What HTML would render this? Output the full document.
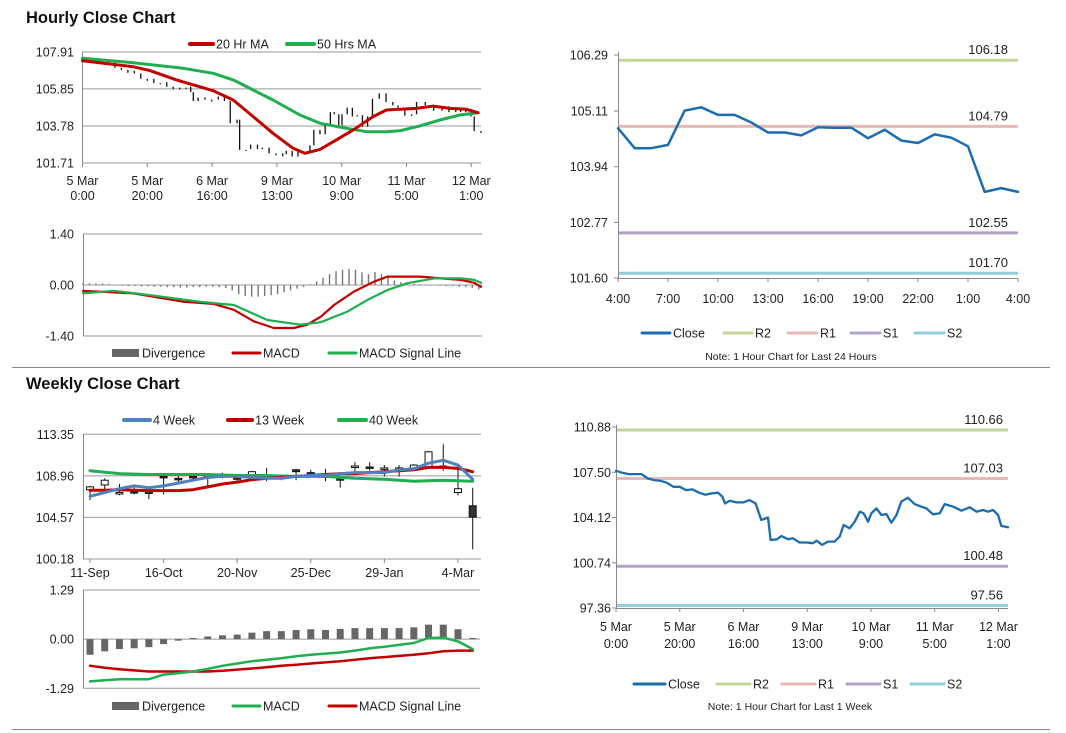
<!DOCTYPE html>
<html><head><meta charset="utf-8"><style>
html,body{margin:0;padding:0;background:#fff;}
svg{display:block;font-family:"Liberation Sans",Arial,sans-serif;}
</style></head><body>
<svg id="c" width="1066" height="733" viewBox="0 0 1066 733" xmlns="http://www.w3.org/2000/svg">
<rect width="1066" height="733" fill="#fff"/>
<text x="26" y="23" font-size="16.5" font-weight="bold" fill="#111">Hourly Close Chart</text>
<text x="26" y="389" font-size="16.5" font-weight="bold" fill="#111">Weekly Close Chart</text>
<line x1="12" y1="367.5" x2="1050" y2="367.5" stroke="#888" stroke-width="1"/>
<line x1="12" y1="729.5" x2="1050" y2="729.5" stroke="#888" stroke-width="1"/>
</svg>
<script>
// ---------- DATA ----------
// 1-week hourly close (shared by hourly candle chart and right-bottom chart)
const weekHours=[0,2,4,6,8,10,12,14,16,18,20,22,24,26,28,30,32,33.4,34.2,35.7,37.8,39.9,41.9,43.8,45.6,47.7,48.5,50.5,51.9,54,55.5,57.6,59.7,61.8,62.9,64.7,66.5,68.6,70.2,71.4,73.3,74.9,76.5,77.7,79.1,80.1,81.7,83.3,84.8,86.4,88,89.5,91.6,93.7,95.8,97.4,99.5,101.6,103.1,105.8,108.4,111,113.1,115.2,116.7,118.3,119.9,120.9,123];
const weekClose=[107.61,107.46,107.36,107.36,107.36,107.03,106.91,106.86,106.71,106.41,106.41,106.17,106.22,105.97,105.82,105.92,105.97,105.67,105.17,105.37,105.25,105.25,105.42,105.17,103.93,104.13,102.44,102.49,102.74,102.49,102.57,102.25,102.25,102.20,102.39,102.07,102.32,102.32,102.69,103.56,103.31,103.81,104.55,104.43,103.81,104.43,104.80,104.31,104.38,103.73,104.31,105.30,105.60,105.12,104.93,104.80,104.35,104.43,105.12,104.93,104.63,104.88,104.55,104.68,104.55,104.68,104.31,103.49,103.39];
const hourTickLabels=[["5 Mar","0:00"],["5 Mar","20:00"],["6 Mar","16:00"],["9 Mar","13:00"],["10 Mar","9:00"],["11 Mar","5:00"],["12 Mar","1:00"]];
const hourTickPos=[0,20,40,60,80,100,120];
const ma20Hours=[0,15.6,20.8,29,40.3,46.5,52.7,58.8,65,68.6,73.3,77.4,83.5,89.7,93.8,97.9,103.1,108.2,113.4,118.5,122.1];
const ma20=[107.42,107.09,106.87,106.35,105.75,105.23,104.30,103.37,102.53,102.25,102.47,102.90,103.55,104.30,104.67,104.71,104.76,104.89,104.76,104.71,104.52];
const ma50Hours=[0,15.6,31.1,40.3,46.5,52.7,58.8,67.1,73.3,81.5,87.7,93.8,97.9,104.1,110.3,116.5,122.1];
const ma50=[107.56,107.31,107.0,106.72,106.35,105.79,105.23,104.39,103.93,103.65,103.46,103.46,103.51,103.78,104.11,104.39,104.52];
const hPriceTicks=[107.91,105.85,103.78,101.71];
// hourly MACD
const macdHHours=[0,15.6,31.1,40.3,46.5,52.7,58.8,65,69.1,73.3,77.4,83.5,89.7,93.8,97.9,104.1,110.3,116.5,120.6,122.7];
const macdH=[-0.16,-0.23,-0.46,-0.52,-0.68,-1.0,-1.18,-1.18,-1.09,-0.87,-0.55,-0.18,0.09,0.23,0.23,0.23,0.18,0.14,0.06,-0.05];
const sigHHours=[0,9.4,20.8,36.2,46.5,56.8,67.1,73.3,81.5,87.7,93.8,100,108.2,116.5,120.6,122.7];
const sigH=[-0.23,-0.16,-0.28,-0.46,-0.55,-0.96,-1.09,-1.02,-0.73,-0.41,-0.14,0.05,0.18,0.18,0.14,0.06];
const divH=[0.05,0.05,0.04,0.04,0.03,0,-0.02,-0.03,-0.03,-0.04,-0.04,-0.05,-0.05,-0.06,-0.06,-0.07,-0.07,-0.06,-0.06,-0.05,-0.05,-0.06,-0.08,-0.15,-0.25,-0.3,-0.32,-0.32,-0.3,-0.28,-0.25,-0.2,-0.15,-0.1,-0.05,0.02,0.1,0.2,0.3,0.38,0.42,0.44,0.42,0.35,0.3,0.36,0.3,0.2,0.12,0.08,0.05,0.03,0.02,0.01,0.0,-0.02,-0.03,-0.03,-0.05,-0.06,-0.08,-0.12];
const macdHTicks=[1.40,0.00,-1.40];
// last 24h close
const dayTickLabels=["4:00","7:00","10:00","13:00","16:00","19:00","22:00","1:00","4:00"];
const dayClose=[104.75,104.33,104.33,104.40,105.12,105.19,105.03,105.03,104.87,104.66,104.66,104.60,104.77,104.76,104.76,104.54,104.72,104.49,104.44,104.62,104.55,104.37,103.41,103.49,103.41];
const dayTicks=[106.29,105.11,103.94,102.77,101.60];
const dayLevels=[106.18,104.79,102.55,101.70];
const weekTicks=[110.88,107.50,104.12,100.74,97.36];
const weekLevels=[110.66,107.03,100.48,97.56];
const levelNames=["R2","R1","S1","S2"];
// weekly candles
const wkLabels=["11-Sep","16-Oct","20-Nov","25-Dec","29-Jan","4-Mar"];
const wkLabelIdx=[0,5,10,15,20,25];
const wOpen=[107.5,108.0,107.1,107.3,107.4,108.9,108.7,108.9,108.8,109.0,108.8,108.9,108.8,108.8,109.6,109.3,109.1,108.7,110.0,109.9,109.7,109.7,109.8,109.9,109.9,107.2,105.8];
const wClose=[107.8,108.5,107.2,107.2,107.1,108.8,108.6,108.8,108.9,109.1,108.6,109.4,108.7,108.8,109.4,109.2,108.8,108.5,110.0,109.8,109.8,109.8,110.1,111.5,110.0,107.6,104.6];
const wHigh=[107.9,108.7,108.1,108.0,107.5,109.1,109.0,109.1,109.2,109.3,109.0,109.5,109.8,109.0,109.7,109.6,109.7,108.9,110.4,110.4,110.1,110.1,110.2,111.6,112.3,110.2,107.7];
const wLow=[106.4,107.4,106.9,107.0,106.5,107.0,108.2,108.5,107.8,108.7,108.3,108.5,108.4,108.5,108.5,108.9,108.4,107.7,109.3,109.5,108.9,108.9,109.5,109.8,109.5,106.9,101.2];
const ma4w=[106.8,107.2,107.6,107.9,107.7,107.9,108.2,108.5,108.8,108.9,108.9,108.8,108.7,108.7,108.9,109.0,109.0,109.2,109.3,109.3,109.3,109.6,109.7,110.3,110.6,110.1,108.6];
const ma13w=[107.45,107.45,107.5,107.45,107.4,107.4,107.4,107.5,107.8,108.1,108.3,108.55,108.7,108.8,108.9,109.0,109.1,109.2,109.2,109.3,109.4,109.5,109.6,109.85,109.85,109.75,109.4];
const ma40w=[109.5,109.35,109.2,109.15,109.1,109.1,109.1,109.1,109.1,109.05,109.0,109.0,109.0,108.95,108.9,108.9,108.9,108.8,108.7,108.65,108.6,108.5,108.4,108.45,108.5,108.45,108.4];
const wTicks=[113.35,108.96,104.57,100.18];
const divW=[-0.41,-0.32,-0.26,-0.24,-0.21,-0.13,-0.04,0.03,0.07,0.10,0.12,0.17,0.21,0.21,0.24,0.26,0.24,0.27,0.29,0.29,0.29,0.29,0.31,0.38,0.38,0.26,0.03];
const macdW=[-1.11,-1.08,-1.05,-1.05,-1.05,-0.93,-0.89,-0.85,-0.78,-0.70,-0.64,-0.58,-0.54,-0.50,-0.45,-0.41,-0.38,-0.35,-0.30,-0.24,-0.20,-0.15,-0.10,0.03,0.04,-0.06,-0.26];
const sigW=[-0.70,-0.75,-0.79,-0.82,-0.85,-0.85,-0.85,-0.85,-0.85,-0.83,-0.80,-0.77,-0.74,-0.70,-0.67,-0.64,-0.61,-0.58,-0.54,-0.50,-0.47,-0.44,-0.41,-0.37,-0.32,-0.30,-0.30];
const macdWTicks=[1.29,0.00,-1.29];

// ---------- helpers ----------
const svg=document.getElementById('c');
const NS="http://www.w3.org/2000/svg";
function mk(tag,attrs,parent){const e=document.createElementNS(NS,tag);for(const k in attrs)e.setAttribute(k,attrs[k]);(parent||svg).appendChild(e);return e;}
function txt(x,y,s,anchor,size,parent){const t=mk('text',{x:x,y:y,'font-size':size||12,'text-anchor':anchor||'start',fill:'#222'},parent);t.textContent=s;return t;}
function lin(sx,sy){return v=>sx(v);} 
function scale(d0,d1,r0,r1){return v=>r0+(v-d0)*(r1-r0)/(d1-d0);}
function poly(xs,ys,fx,fy,color,w,name,parent){const p=mk('polyline',{points:xs.map((x,i)=>fx(x).toFixed(1)+','+fy(ys[i]).toFixed(1)).join(' '),fill:'none',stroke:color,'stroke-width':w,'stroke-linejoin':'round','stroke-linecap':'round'},parent);


return p;}
function legendLine(x1,x2,y,color,w,label,name){const g=mk('g',{});


mk('line',{x1:x1,y1:y,x2:x2,y2:y,stroke:color,'stroke-width':w,'stroke-linecap':'round'},g);txt(x2+3,y+4.5,label,'start',12.5,g);}
function legendBox(x1,x2,y,label,name){const g=mk('g',{});


mk('rect',{x:x1,y:y-4,width:x2-x1,height:8,fill:'#666'},g);txt(x2+3,y+4.5,label,'start',12.5,g);}
const RED='#c00000',GRN='#1fae50',BLUE='#1c6cb0';
const LVC=['#c3d69b','#e6b9b8','#b3a2c7','#93cddd'];

// ---------- Hourly price chart (top-left) ----------
(function(){
const fx=scale(0,123,82.5,481), fy=scale(107.91,101.71,52,163);
const g=mk('g',{});


hPriceTicks.forEach((v,i)=>{mk('line',{x1:82,x2:481,y1:fy(v),y2:fy(v),stroke:'#999','stroke-width':1},g);const t=txt(74,fy(v)+4.5,v.toFixed(2),'end',12.5,g);

});
mk('line',{x1:82.5,x2:82.5,y1:52,y2:163,stroke:'#888'},g);
hourTickPos.forEach((h,i)=>{mk('line',{x1:fx(h),x2:fx(h),y1:163,y2:167,stroke:'#888'},g);const t1=txt(fx(h),185,hourTickLabels[i][0],'middle',12.5,g);txt(fx(h),200,hourTickLabels[i][1],'middle',12.5,g);

});
// candles from consecutive closes
for(let i=1;i<weekClose.length;i++){const x=fx(weekHours[i]);const c=mk('line',{x1:x,x2:x,y1:fy(weekClose[i-1]),y2:fy(weekClose[i])+ (Math.abs(weekClose[i]-weekClose[i-1])<0.05?2:0),stroke:'#111','stroke-width':1.3},g);

}
poly(ma50Hours,ma50,fx,fy,GRN,3,'ma50-line',g);
poly(ma20Hours,ma20,fx,fy,RED,3,'ma20-line',g);
legendLine(190,213,44,RED,4,'20 Hr MA','legend-20hr-ma');
legendLine(287,314,44,GRN,4,'50 Hrs MA','legend-50hr-ma');
})();

// ---------- Hourly MACD ----------
(function(){
const fx=scale(0,123,83,482), fy=scale(1.4,-1.4,234,336);
const g=mk('g',{});


mk('line',{x1:83,x2:482,y1:fy(1.4),y2:fy(1.4),stroke:'#999'},g);
mk('line',{x1:83,x2:482,y1:fy(-1.4),y2:fy(-1.4),stroke:'#999'},g);
mk('line',{x1:83,x2:482,y1:fy(0),y2:fy(0),stroke:'#999'},g);
mk('line',{x1:83.5,x2:83.5,y1:234,y2:336,stroke:'#888'},g);
macdHTicks.forEach(v=>{const t=txt(74,fy(v)+4.5,v.toFixed(2),'end',12.5,g);

});
divH.forEach((v,i)=>{const x=fx(i*2);const y0=fy(0),y1=fy(v);const b=mk('rect',{x:x-0.7,y:Math.min(y0,y1),width:1.4,height:Math.abs(y1-y0),fill:'#777'},g);

});
poly(macdHHours,macdH,fx,fy,RED,2.2,'hourly-macd-line',g);
poly(sigHHours,sigH,fx,fy,GRN,2.2,'hourly-signal-line',g);
legendBox(112,139,353,'Divergence','legend-hourly-divergence');
legendLine(233,260,353,RED,3,'MACD','legend-hourly-macd');
legendLine(329,356,353,GRN,3,'MACD Signal Line','legend-hourly-signal');
})();

// ---------- Right-top 24h ----------
(function(){
const fx=scale(0,24,618,1018), fy=scale(106.29,101.60,55,278);
const g=mk('g',{});


mk('line',{x1:618.5,x2:618.5,y1:52,y2:279,stroke:'#888'},g);
mk('line',{x1:618,x2:1018,y1:278.5,y2:278.5,stroke:'#888'},g);
dayTicks.forEach(v=>{mk('line',{x1:614,x2:618,y1:fy(v),y2:fy(v),stroke:'#888'},g);const t=txt(608,fy(v)+4.5,v.toFixed(2),'end',12.5,g);

});
dayTickLabels.forEach((s,i)=>{const x=fx(i*3);mk('line',{x1:x,x2:x,y1:278,y2:282,stroke:'#888'},g);const t=txt(x,303,s,'middle',12.5,g);

});
dayLevels.forEach((v,i)=>{const l=mk('line',{x1:619,x2:1018,y1:fy(v),y2:fy(v),stroke:LVC[i],'stroke-width':3},g);


txt(1008,fy(v)-6,v.toFixed(2),'end',13,g);});
poly(dayClose.map((v,i)=>i),dayClose,fx,fy,BLUE,2.5,'day-close-line',g);
legendLine(642,670,333,BLUE,3,'Close','legend-day-close');
legendLine(724,752,333,LVC[0],3,'R2','legend-day-r2');
legendLine(788,817,333,LVC[1],3,'R1','legend-day-r1');
legendLine(851,880,333,LVC[2],3,'S1','legend-day-s1');
legendLine(915,944,333,LVC[3],3,'S2','legend-day-s2');
const n=txt(791,360,'Note: 1 Hour Chart for Last 24 Hours','middle',10.5,g);


})();

// ---------- Weekly candles (bottom-left) ----------
(function(){
const fx=scale(0,26,90,472.7), fy=scale(113.35,100.18,434.3,559);
const g=mk('g',{});


wTicks.forEach(v=>{mk('line',{x1:83,x2:481,y1:fy(v),y2:fy(v),stroke:'#999'},g);const t=txt(74,fy(v)+4.5,v.toFixed(2),'end',12.5,g);

});
mk('line',{x1:83.5,x2:83.5,y1:434,y2:559,stroke:'#888'},g);
wkLabelIdx.forEach((w,i)=>{const x=fx(w);mk('line',{x1:x,x2:x,y1:559,y2:563,stroke:'#888'},g);const t=txt(x,577,wkLabels[i],'middle',12.5,g);

});
wOpen.forEach((o,i)=>{const x=fx(i);const c=wClose[i];const cg=mk('g',{},g);


mk('line',{x1:x,x2:x,y1:fy(wHigh[i]),y2:fy(wLow[i]),stroke:'#111','stroke-width':1},cg);
const top=fy(Math.max(o,c)),bot=fy(Math.min(o,c));mk('rect',{x:x-3.5,y:top,width:7,height:Math.max(1.5,bot-top),fill:c>=o?'#fff':'#333',stroke:'#111','stroke-width':1},cg);});
poly(ma40w.map((v,i)=>i),ma40w,fx,fy,GRN,3,'ma40w-line',g);
poly(ma13w.map((v,i)=>i),ma13w,fx,fy,RED,3,'ma13w-line',g);
poly(ma4w.map((v,i)=>i),ma4w,fx,fy,'#4f81bd',3,'ma4w-line',g);
legendLine(124,150,420,'#4f81bd',4,'4 Week','legend-4-week');
legendLine(228,252,420,RED,4,'13 Week','legend-13-week');
legendLine(339,366,420,GRN,4,'40 Week','legend-40-week');
})();

// ---------- Weekly MACD ----------
(function(){
const fx=scale(0,26,90,472.7), fy=scale(1.29,-1.29,590,688.3);
const g=mk('g',{});


macdWTicks.forEach(v=>{mk('line',{x1:83,x2:480,y1:fy(v),y2:fy(v),stroke:'#999'},g);const t=txt(74,fy(v)+4.5,v.toFixed(2),'end',12.5,g);

});
mk('line',{x1:83.5,x2:83.5,y1:590,y2:688,stroke:'#888'},g);
divW.forEach((v,i)=>{const x=fx(i);const y0=fy(0),y1=fy(v);const b=mk('rect',{x:x-3.5,y:Math.min(y0,y1),width:7,height:Math.max(0.8,Math.abs(y1-y0)),fill:'#666'},g);

});
poly(sigW.map((v,i)=>i),sigW,fx,fy,RED,2.5,'weekly-signal-line',g);
poly(macdW.map((v,i)=>i),macdW,fx,fy,GRN,2.5,'weekly-macd-line',g);
legendBox(112,139,706,'Divergence','legend-weekly-divergence');
legendLine(233,260,706,GRN,3,'MACD','legend-weekly-macd');
legendLine(329,356,706,RED,3,'MACD Signal Line','legend-weekly-signal');
})();

// ---------- Right-bottom 1 week ----------
(function(){
const fx=scale(0,123,616,1008), fy=scale(110.88,97.36,427,608);
const g=mk('g',{});


mk('line',{x1:616.5,x2:616.5,y1:425,y2:609,stroke:'#888'},g);
mk('line',{x1:616,x2:1008,y1:608.5,y2:608.5,stroke:'#888'},g);
weekTicks.forEach(v=>{mk('line',{x1:612,x2:616,y1:fy(v),y2:fy(v),stroke:'#888'},g);const t=txt(611,fy(v)+4.5,v.toFixed(2),'end',12.5,g);

});
hourTickPos.forEach((h,i)=>{const x=fx(h);mk('line',{x1:x,x2:x,y1:608,y2:612,stroke:'#888'},g);const t=txt(x,631,hourTickLabels[i][0],'middle',12.5,g);txt(x,648,hourTickLabels[i][1],'middle',12.5,g);

});
weekLevels.forEach((v,i)=>{const l=mk('line',{x1:617,x2:1008,y1:fy(v),y2:fy(v),stroke:LVC[i],'stroke-width':3},g);


txt(1003,fy(v)-6,v.toFixed(2),'end',13,g);});
poly(weekHours,weekClose,fx,fy,BLUE,2.3,'week-close-line',g);
legendLine(634,665,684,BLUE,3,'Close','legend-week-close');
legendLine(717,750,684,LVC[0],3,'R2','legend-week-r2');
legendLine(782,815,684,LVC[1],3,'R1','legend-week-r1');
legendLine(847,880,684,LVC[2],3,'S1','legend-week-s1');
legendLine(911,944,684,LVC[3],3,'S2','legend-week-s2');
const n=txt(790,710,'Note: 1 Hour Chart for Last 1 Week','middle',10.5,g);


})();
</script>
</body></html>
